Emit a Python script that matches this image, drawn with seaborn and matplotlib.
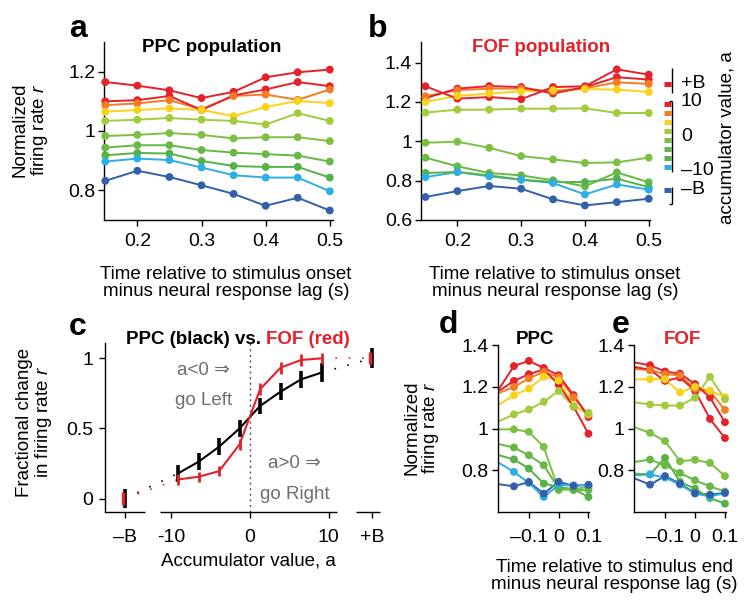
import numpy as np
import pandas as pd
import matplotlib
matplotlib.use("Agg")
import matplotlib.pyplot as plt
import seaborn as sns

# ---------------- data ----------------
levels = ["+B", "10", "7", "4", "1", "-1", "-4", "-7", "-10", "-B"]
level_colors = ["#E5212A", "#E5212A", "#F47C22", "#FBD21A", "#A3CB3B",
                "#7CC043", "#66B946", "#55B247", "#2DAEE4", "#3260AB"]

t_onset = [0.15, 0.2, 0.25, 0.3, 0.35, 0.4, 0.45, 0.5]
ppc_onset = [
    [1.165, 1.153, 1.137, 1.111, 1.132, 1.181, 1.198, 1.207],
    [1.100, 1.104, 1.118, 1.071, 1.120, 1.140, 1.165, 1.151],
    [1.087, 1.093, 1.104, 1.073, 1.118, 1.123, 1.105, 1.140],
    [1.065, 1.071, 1.076, 1.071, 1.050, 1.081, 1.101, 1.094],
    [1.034, 1.038, 1.044, 1.038, 1.034, 1.022, 1.060, 1.034],
    [0.983, 0.987, 0.993, 0.987, 0.975, 0.979, 0.979, 0.966],
    [0.944, 0.952, 0.952, 0.936, 0.927, 0.922, 0.917, 0.897],
    [0.918, 0.926, 0.924, 0.899, 0.882, 0.879, 0.879, 0.843],
    [0.897, 0.907, 0.902, 0.877, 0.851, 0.843, 0.843, 0.797],
    [0.832, 0.866, 0.845, 0.817, 0.788, 0.748, 0.775, 0.732],
]
fof_onset = [
    [1.280, 1.217, 1.225, 1.214, 1.276, 1.280, 1.366, 1.339],
    [1.220, 1.268, 1.281, 1.276, 1.243, 1.276, 1.326, 1.314],
    [1.229, 1.260, 1.268, 1.268, 1.254, 1.270, 1.300, 1.292],
    [1.200, 1.231, 1.243, 1.254, 1.260, 1.265, 1.263, 1.251],
    [1.146, 1.161, 1.161, 1.166, 1.166, 1.168, 1.144, 1.144],
    [0.993, 0.998, 0.967, 0.925, 0.908, 0.890, 0.893, 0.917],
    [0.917, 0.873, 0.839, 0.827, 0.802, 0.771, 0.842, 0.792],
    [0.839, 0.844, 0.827, 0.805, 0.793, 0.793, 0.810, 0.767],
    [0.818, 0.844, 0.822, 0.805, 0.788, 0.730, 0.781, 0.754],
    [0.717, 0.747, 0.773, 0.759, 0.705, 0.674, 0.691, 0.708],
]

t_end = [-0.2, -0.15, -0.1, -0.05, 0.0, 0.05, 0.1]
ppc_end = [
    [1.190, 1.299, 1.324, 1.290, 1.255, 1.160, 1.055],
    [1.180, 1.228, 1.260, 1.283, 1.210, 1.105, 0.975],
    [1.170, 1.199, 1.240, 1.272, 1.245, 1.150, 1.065],
    [1.115, 1.159, 1.191, 1.248, 1.230, 1.110, 1.070],
    [1.035, 1.068, 1.091, 1.128, 1.180, 1.105, 1.075],
    [0.996, 0.996, 0.984, 0.912, 0.705, 0.710, 0.720],
    [0.925, 0.909, 0.872, 0.824, 0.712, 0.705, 0.705],
    [0.872, 0.852, 0.808, 0.736, 0.720, 0.710, 0.672],
    [0.835, 0.792, 0.739, 0.672, 0.730, 0.728, 0.729],
    [0.733, 0.723, 0.744, 0.688, 0.745, 0.725, 0.730],
]
fof_end = [
    [1.316, 1.303, 1.273, 1.263, 1.213, 1.149, 1.030],
    [1.295, 1.281, 1.228, 1.244, 1.181, 1.046, 0.954],
    [1.285, 1.280, 1.260, 1.255, 1.190, 1.178, 1.089],
    [1.235, 1.236, 1.236, 1.173, 1.200, 1.181, 1.150],
    [1.125, 1.115, 1.110, 1.110, 1.148, 1.248, 1.140],
    [1.005, 0.979, 0.940, 0.843, 0.850, 0.835, 0.772],
    [0.840, 0.851, 0.823, 0.787, 0.752, 0.723, 0.698],
    [0.784, 0.780, 0.859, 0.744, 0.712, 0.667, 0.640],
    [0.776, 0.780, 0.765, 0.731, 0.688, 0.675, 0.690],
    [0.760, 0.731, 0.772, 0.736, 0.690, 0.683, 0.692],
]

# panel c: fractional change vs accumulator value
acc_x = [-9.1, -6.5, -3.9, -1.3, 1.3, 3.9, 6.5, 9.1]
ppc_frac = [0.179, 0.262, 0.369, 0.500, 0.660, 0.762, 0.850, 0.898]
ppc_err = [0.060, 0.060, 0.062, 0.060, 0.058, 0.060, 0.062, 0.065]
fof_frac = [0.136, 0.155, 0.195, 0.386, 0.779, 0.933, 0.988, 1.000]
fof_err = [0.040, 0.036, 0.036, 0.042, 0.042, 0.042, 0.043, 0.040]
bound_x = [-15.8, 15.5]
ppc_bound = [0.0, 1.0]
ppc_bound_err = [0.065, 0.07]
fof_bound = [0.0, 1.0]
fof_bound_err = [0.044, 0.044]

c_ticks = [-15.8, -10, 0, 10, 15.5]
c_ticklabels = ["\u2013B", "-10", "0", "10", "+B"]

legend_labels = ["+B", "10", "0", "\u201310", "\u2013B"]

RED = "#E5212A"
GREY = "#6E6E6E"

# ---------------- style ----------------
sns.set_theme(style="ticks")
plt.rcParams["font.family"] = ["Liberation Sans", "DejaVu Sans"]
plt.rcParams["mathtext.fontset"] = "custom"
plt.rcParams["mathtext.it"] = "Liberation Sans:italic"
plt.rcParams["mathtext.rm"] = "Liberation Sans"
plt.rcParams["axes.linewidth"] = 1.0
for k in ["text.color", "axes.labelcolor", "xtick.color", "ytick.color",
          "axes.edgecolor"]:
    plt.rcParams[k] = "black"
FS = 13.5
TFS = 14

W, H = 754, 614
fig = plt.figure(figsize=(W / 100, H / 100), dpi=100)


def ax_px(l, t, r, b):
    return fig.add_axes([l / W, 1 - b / H, (r - l) / W, (b - t) / H])


def T(x, y, s, **kw):
    kw.setdefault("fontsize", FS)
    kw.setdefault("ha", "center")
    kw.setdefault("va", "center")
    return fig.text(x / W, 1 - y / H, s, **kw)


def long_df(t, rows):
    recs = []
    for lev, row in zip(levels, rows):
        for tt, v in zip(t, row):
            recs.append({"t": tt, "r": v, "level": lev})
    return pd.DataFrame(recs)


pal = dict(zip(levels, level_colors))
draw_order = levels[::-1]


def style_axes(ax, xpad, ypad):
    sns.despine(ax=ax)
    ax.tick_params(direction="out", length=4, width=1.0, labelsize=TFS,
                   colors="black")
    ax.tick_params(axis="x", pad=xpad)
    ax.tick_params(axis="y", pad=ypad)
    ax.set_xlabel("")
    ax.set_ylabel("")


def trace_panel(ax, t, rows, skip_first=False):
    df = long_df(t, rows)
    sns.lineplot(data=df, x="t", y="r", hue="level", hue_order=draw_order,
                 palette=pal, lw=1.4, legend=False, ax=ax, sort=False)
    dm = df[df["t"] > min(t) + 1e-9] if skip_first else df
    sns.scatterplot(data=dm, x="t", y="r", hue="level", hue_order=draw_order,
                    palette=pal, s=32, linewidth=0, legend=False, ax=ax,
                    clip_on=False, zorder=3)


# ---- panel a ----
axa = ax_px(104, 42, 333, 220)
trace_panel(axa, t_onset, ppc_onset)
axa.set_xlim(0.148, 0.505)
axa.set_ylim(0.70, 1.30)
axa.set_xticks([0.2, 0.3, 0.4, 0.5])
axa.set_xticklabels(["0.2", "0.3", "0.4", "0.5"])
axa.set_yticks([0.8, 1.0, 1.2])
axa.set_yticklabels(["0.8", "1", "1.2"])
style_axes(axa, 5.5, 2)

# ---- panel b ----
axb = ax_px(421, 42, 650, 220)
trace_panel(axb, t_onset, fof_onset)
axb.set_xlim(0.143, 0.502)
axb.set_ylim(0.60, 1.505)
axb.set_xticks([0.2, 0.3, 0.4, 0.5])
axb.set_xticklabels(["0.2", "0.3", "0.4", "0.5"])
axb.set_yticks([0.6, 0.8, 1.0, 1.2, 1.4])
axb.set_yticklabels(["0.6", "0.8", "1", "1.2", "1.4"])
style_axes(axb, 5.5, 2.5)

# ---- colour key for a/b ----
axl = ax_px(655, 55, 700, 215)
axl.set_xlim(655, 700)
axl.set_ylim(215, 55)
axl.axis("off")
key_y = [84, 104, 113, 122, 131, 140, 149, 158, 167, 190]
for yy, cc in zip(key_y, level_colors):
    axl.hlines(yy, 663.5, 671, color=cc, lw=3.6)
for y0, y1 in [(68, 93), (101, 172), (187, 204)]:
    axl.vlines(672, y0, y1, color="black", lw=1.0)
axl.hlines([101, 204], 669, 672, color="black", lw=1.0)
for yy, lab in zip([84, 102, 137, 171, 190], legend_labels):
    axl.text(681, yy, lab, fontsize=TFS, ha="left", va="center")
T(727, 138, "accumulator value, a", rotation=90)

# ---- panel c ----
axc = ax_px(105, 343, 380, 512)
dc = pd.DataFrame({"a": acc_x, "ppc": ppc_frac, "fof": fof_frac})
axc.axvline(0, color="#555555", lw=1.0, ls=(0, (1.5, 2.5)))
conn_ppc = pd.DataFrame({"a": [bound_x[0], acc_x[0]], "v": [ppc_bound[0], ppc_frac[0]]})
conn_ppc2 = pd.DataFrame({"a": [acc_x[-1], bound_x[1]], "v": [ppc_frac[-1], ppc_bound[1]]})
conn_fof = pd.DataFrame({"a": [bound_x[0], acc_x[0]], "v": [fof_bound[0], fof_frac[0]]})
conn_fof2 = pd.DataFrame({"a": [acc_x[-1], bound_x[1]], "v": [fof_frac[-1], fof_bound[1]]})
for d_, col in [(conn_ppc, "black"), (conn_ppc2, "black"), (conn_fof, RED), (conn_fof2, RED)]:
    sns.lineplot(data=d_, x="a", y="v", color=col, lw=1.2, ls=(0, (1, 7)),
                 ax=axc, legend=False)
sns.lineplot(data=dc, x="a", y="ppc", color="black", lw=1.5, ax=axc)
sns.lineplot(data=dc, x="a", y="fof", color=RED, lw=1.5, ax=axc)
axc.vlines(acc_x, np.array(ppc_frac) - ppc_err, np.array(ppc_frac) + ppc_err,
           color="black", lw=2.6, zorder=3)
axc.vlines(acc_x, np.array(fof_frac) - fof_err, np.array(fof_frac) + fof_err,
           color=RED, lw=2.0, zorder=4)
axc.vlines(bound_x, np.array(ppc_bound) - ppc_bound_err,
           np.array(ppc_bound) + ppc_bound_err, color="black", lw=2.6, zorder=3,
           clip_on=False)
axc.vlines(np.array(bound_x) - 0.3, np.array(fof_bound) - fof_bound_err,
           np.array(fof_bound) + fof_bound_err, color=RED, lw=2.4, zorder=4,
           clip_on=False)
axc.set_xlim(-18.35, 16.5)
axc.set_ylim(-0.096, 1.109)
axc.set_xticks(c_ticks)
axc.set_xticklabels(c_ticklabels)
axc.set_yticks([0, 0.5, 1])
axc.set_yticklabels(["0", "0.5", "1"])
style_axes(axc, 8, 4.5)
axc.spines["bottom"].set_visible(False)
xt = axc.get_xaxis_transform()
for x0, x1 in [(-18.35, -13.3), (-11.4, 11.0), (13.4, 16.5)]:
    axc.plot([x0, x1], [0, 0], color="black", lw=1.0, transform=xt,
             clip_on=False, solid_capstyle="butt")
axc.text(-5.9, 0.915, "a<0 \u21d2", color=GREY, fontsize=FS, ha="center",
         va="center", family=["Liberation Sans", "DejaVu Sans"])
axc.text(-5.9, 0.70, "go Left", color=GREY, fontsize=FS, ha="center", va="center")
axc.text(5.7, 0.25, "a>0 \u21d2", color=GREY, fontsize=FS, ha="center",
         va="center", family=["Liberation Sans", "DejaVu Sans"])
axc.text(5.7, 0.03, "go Right", color=GREY, fontsize=FS, ha="center", va="center")

# ---- panels d, e ----
axd = ax_px(498, 345, 589.5, 512)
trace_panel(axd, t_end, ppc_end, skip_first=True)
axe = ax_px(634, 345, 726, 512)
trace_panel(axe, t_end, fof_end, skip_first=True)
for ax in (axd, axe):
    ax.set_xlim(-0.2035, 0.1035)
    ax.set_ylim(0.6, 1.4)
    ax.set_xticks([-0.1, 0.0, 0.1])
    ax.set_xticklabels(["\u20130.1", "0", "0.1"])
    ax.set_yticks([0.8, 1.0, 1.2, 1.4])
    ax.set_yticklabels(["0.8", "1", "1.2", "1.4"])
    style_axes(ax, 8, 3)

# ---------------- text ----------------
T(212, 48, "PPC population", fontweight="bold", fontsize=13.5)
T(541, 47, "FOF population", fontweight="bold", fontsize=13.5, color=RED)
T(261, 339, "PPC (black) vs.", fontweight="bold", fontsize=13.5, ha="right")
T(266, 339, "FOF (red)", fontweight="bold", fontsize=13.5, ha="left", color=RED)
T(535, 339, "PPC", fontweight="bold", fontsize=13.5)
T(682, 339, "FOF", fontweight="bold", fontsize=13.5, color=RED)

for (x, y, s) in [(69, 37, "a"), (368, 37, "b"), (69, 335, "c"), (439, 333, "d"), (612, 333, "e")]:
    T(x, y, s, fontweight="bold", fontsize=23, ha="left", va="baseline")

T(31, 130, "Normalized\nfiring rate $r$", rotation=90, linespacing=1.0)
T(35, 422, "Fractional change\nin firing rate $r$", rotation=90, linespacing=1.0)
T(422, 428, "Normalized\nfiring rate $r$", rotation=90, linespacing=1.0)

T(226, 283, "Time relative to stimulus onset\nminus neural response lag (s)", linespacing=1.05)
T(555, 283, "Time relative to stimulus onset\nminus neural response lag (s)", linespacing=1.05)
T(248, 561, "Accumulator value, a")
T(614, 576, "Time relative to stimulus end\nminus neural response lag (s)", linespacing=1.05)

fig.savefig("out.png", dpi=100)
